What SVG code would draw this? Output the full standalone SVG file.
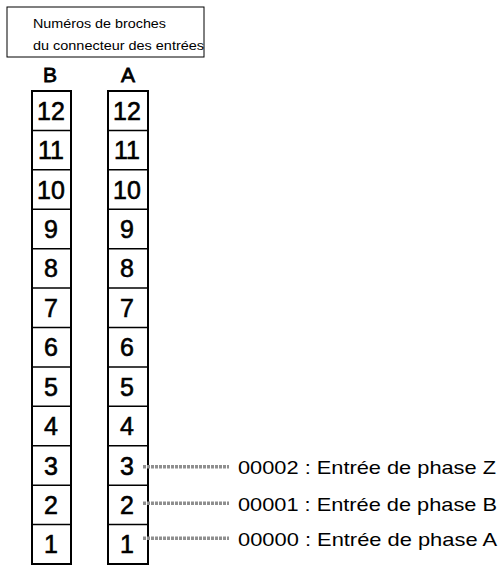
<svg xmlns="http://www.w3.org/2000/svg" width="504" height="568" viewBox="0 0 504 568">
<style>
text{font-family:"Liberation Sans",Arial,sans-serif;fill:#000}
.t{font-size:13px}
.h{font-size:21px;text-anchor:middle;stroke:#000;stroke-width:0.8}
.n{font-size:25px;text-anchor:middle;stroke:#000;stroke-width:0.6}
.l{font-size:18.5px}
.col{fill:#fff;stroke:#000;stroke-width:2}
.div{stroke:#000;stroke-width:1.5}
.wire{stroke:#8f8f8f;stroke-width:3.5;stroke-dasharray:3 1}
</style>
<rect width="504" height="568" fill="#fff"/>
<g id="title">
<rect x="7" y="7" width="197" height="50" fill="#fff" stroke="#000" stroke-width="1"/>
<text class="t" x="33" y="28" textLength="133" lengthAdjust="spacingAndGlyphs">Numéros de broches</text>
<text class="t" x="33" y="50" textLength="171" lengthAdjust="spacingAndGlyphs">du connecteur des entrées</text>
</g>
<g id="headers">
<text class="h" x="50" y="82">B</text>
<text class="h" x="128" y="82">A</text>
</g>
<g id="colB">
<rect class="col" x="32" y="91" width="39" height="473"/>
<g class="div">
<line x1="32" y1="130.4" x2="71" y2="130.4"/><line x1="32" y1="169.8" x2="71" y2="169.8"/><line x1="32" y1="209.3" x2="71" y2="209.3"/><line x1="32" y1="248.7" x2="71" y2="248.7"/><line x1="32" y1="288.1" x2="71" y2="288.1"/><line x1="32" y1="327.5" x2="71" y2="327.5"/><line x1="32" y1="366.9" x2="71" y2="366.9"/><line x1="32" y1="406.3" x2="71" y2="406.3"/><line x1="32" y1="445.8" x2="71" y2="445.8"/><line x1="32" y1="485.2" x2="71" y2="485.2"/><line x1="32" y1="524.6" x2="71" y2="524.6"/>
</g>
<text class="n" x="51" y="119.7">12</text><text class="n" x="51" y="159.1">11</text><text class="n" x="51" y="198.5">10</text><text class="n" x="51" y="238">9</text><text class="n" x="51" y="277.4">8</text><text class="n" x="51" y="316.8">7</text><text class="n" x="51" y="356.2">6</text><text class="n" x="51" y="395.6">5</text><text class="n" x="51" y="435">4</text><text class="n" x="51" y="474.5">3</text><text class="n" x="51" y="513.9">2</text><text class="n" x="51" y="553.3">1</text>
</g>
<g id="colA">
<rect class="col" x="108" y="91" width="40" height="473"/>
<g class="div">
<line x1="108" y1="130.4" x2="148" y2="130.4"/><line x1="108" y1="169.8" x2="148" y2="169.8"/><line x1="108" y1="209.3" x2="148" y2="209.3"/><line x1="108" y1="248.7" x2="148" y2="248.7"/><line x1="108" y1="288.1" x2="148" y2="288.1"/><line x1="108" y1="327.5" x2="148" y2="327.5"/><line x1="108" y1="366.9" x2="148" y2="366.9"/><line x1="108" y1="406.3" x2="148" y2="406.3"/><line x1="108" y1="445.8" x2="148" y2="445.8"/><line x1="108" y1="485.2" x2="148" y2="485.2"/><line x1="108" y1="524.6" x2="148" y2="524.6"/>
</g>
<text class="n" x="127" y="119.7">12</text><text class="n" x="127" y="159.1">11</text><text class="n" x="127" y="198.5">10</text><text class="n" x="127" y="238">9</text><text class="n" x="127" y="277.4">8</text><text class="n" x="127" y="316.8">7</text><text class="n" x="127" y="356.2">6</text><text class="n" x="127" y="395.6">5</text><text class="n" x="127" y="435">4</text><text class="n" x="127" y="474.5">3</text><text class="n" x="127" y="513.9">2</text><text class="n" x="127" y="553.3">1</text>
</g>
<g id="connectors">
<line class="wire" x1="143" y1="466.7" x2="229" y2="466.7"/>
<line class="wire" x1="143" y1="503.3" x2="229" y2="503.3"/>
<line class="wire" x1="143" y1="538.3" x2="229" y2="538.3"/>
</g>
<g id="labels">
<text class="l" x="238" y="474" textLength="258" lengthAdjust="spacingAndGlyphs">00002 : Entrée de phase Z</text>
<text class="l" x="238" y="511" textLength="259" lengthAdjust="spacingAndGlyphs">00001 : Entrée de phase B</text>
<text class="l" x="238" y="546" textLength="259" lengthAdjust="spacingAndGlyphs">00000 : Entrée de phase A</text>
</g>
</svg>
